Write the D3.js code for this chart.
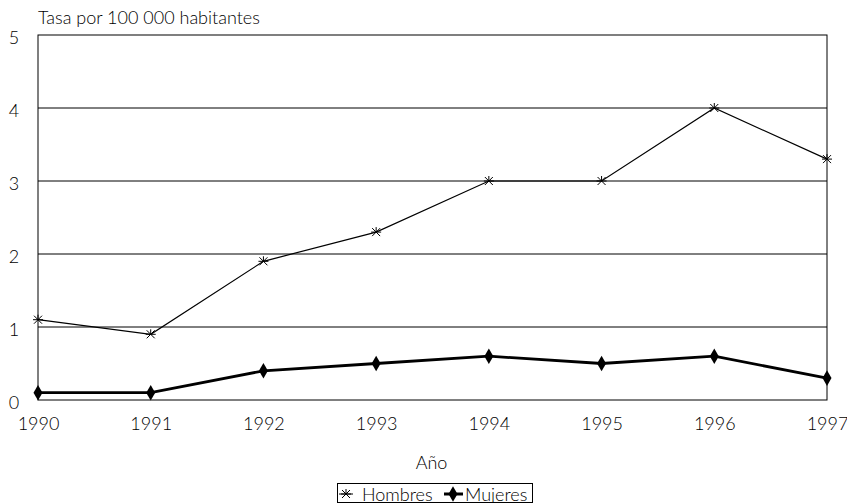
<!DOCTYPE html>
<html><head><meta charset="utf-8">
<script src="https://cdn.jsdelivr.net/npm/d3@7"></script>
<style>body{margin:0;background:#fff;} text{font-family:Lato,"Open Sans",sans-serif;fill:#000;font-weight:300;}</style>
</head><body>
<svg id="c" width="847" height="503"></svg>
<script>
const years = [1990, 1991, 1992, 1993, 1994, 1995, 1996, 1997];
const hombres = [1.1, 0.9, 1.9, 2.3, 3.0, 3.0, 4.0, 3.3];
const mujeres = [0.1, 0.1, 0.4, 0.5, 0.6, 0.5, 0.6, 0.3];
const yTicks = [0, 1, 2, 3, 4, 5];

const svg = d3.select("#c");
const m = {l: 38, r: 827, t: 35, b: 400};
const x = d3.scaleLinear().domain([1990, 1997]).range([m.l, m.r]);
const y = d3.scaleLinear().domain([0, 5]).range([m.b, m.t]);

// horizontal gridlines
svg.append("g").selectAll("line").data(yTicks.slice(1, -1)).join("line")
  .attr("x1", m.l).attr("x2", m.r).attr("y1", d => y(d)).attr("y2", d => y(d))
  .attr("stroke", "#000").attr("stroke-width", 1);

// plot frame
svg.append("rect").attr("x", m.l).attr("y", m.t).attr("width", m.r - m.l).attr("height", m.b - m.t)
  .attr("fill", "none").attr("stroke", "#000").attr("stroke-width", 1);

// y axis labels
const yAxis = d3.axisLeft(y).tickValues(yTicks).tickSize(0).tickPadding(24).tickFormat(d3.format("d"));
const ga = svg.append("g").attr("transform", `translate(${m.l},3)`).call(yAxis);
ga.select(".domain").remove();
ga.selectAll("text").style("font-size", "18px").attr("font-family", null).attr("text-anchor", "middle");

// x axis labels
const xAxis = d3.axisBottom(x).tickValues(years).tickSize(0).tickPadding(17).tickFormat(d3.format("d"));
const gx = svg.append("g").attr("transform", `translate(0,${m.b})`).call(xAxis);
gx.select(".domain").remove();
gx.selectAll("text").style("font-size", "18px").attr("font-family", null);

svg.append("text").attr("x", 38).attr("y", 24).style("font-size", "18px").text("Tasa por 100 000 habitantes");
svg.append("text").attr("x", x(1993.5) - 1).attr("y", 469).attr("text-anchor", "middle").style("font-size", "18px").text("Año");

const line = d3.line().x((d, i) => x(years[i])).y(d => y(d));

svg.append("path").datum(hombres).attr("d", line).attr("fill", "none").attr("stroke", "#000").attr("stroke-width", 1.2);
svg.append("path").datum(mujeres).attr("d", line).attr("fill", "none").attr("stroke", "#000").attr("stroke-width", 2.8);

const star = d3.symbol().type({draw(ctx, size) {
  const r = Math.sqrt(size) / 2;
  ctx.moveTo(-r, 0); ctx.lineTo(r, 0);
  const a = r * 0.8;
  ctx.moveTo(-a, -a); ctx.lineTo(a, a);
  ctx.moveTo(-a, a); ctx.lineTo(a, -a);
  ctx.moveTo(0, -r); ctx.lineTo(0, 0);
}}).size(100);
const diamond = d3.symbol().type(d3.symbolDiamond).size(70);

svg.append("g").selectAll("path").data(hombres).join("path")
  .attr("transform", (d, i) => `translate(${x(years[i])},${y(d)})`)
  .attr("d", star).attr("fill", "none").attr("stroke", "#000").attr("stroke-width", 1);
svg.append("g").selectAll("path").data(mujeres).join("path")
  .attr("transform", (d, i) => `translate(${x(years[i])},${y(d)})`)
  .attr("d", diamond).attr("fill", "#000");

// legend
const lg = svg.append("g");
lg.append("rect").attr("x", 337.5).attr("y", 483.5).attr("width", 195).attr("height", 19)
  .attr("fill", "#fff").attr("stroke", "#000");
lg.append("line").attr("x1", 339).attr("x2", 353).attr("y1", 494).attr("y2", 494).attr("stroke", "#000");
lg.append("path").attr("transform", "translate(346,494)").attr("d", star).attr("fill", "none").attr("stroke", "#000");
lg.append("text").attr("x", 362).attr("y", 500.5).style("font-size", "18px").text("Hombres");
lg.append("line").attr("x1", 444).attr("x2", 463).attr("y1", 494).attr("y2", 494).attr("stroke", "#000").attr("stroke-width", 3);
lg.append("path").attr("transform", "translate(453,494)").attr("d", diamond).attr("fill", "#000");
lg.append("text").attr("x", 465).attr("y", 500.5).style("font-size", "18px").text("Mujeres");
</script>
</body></html>
